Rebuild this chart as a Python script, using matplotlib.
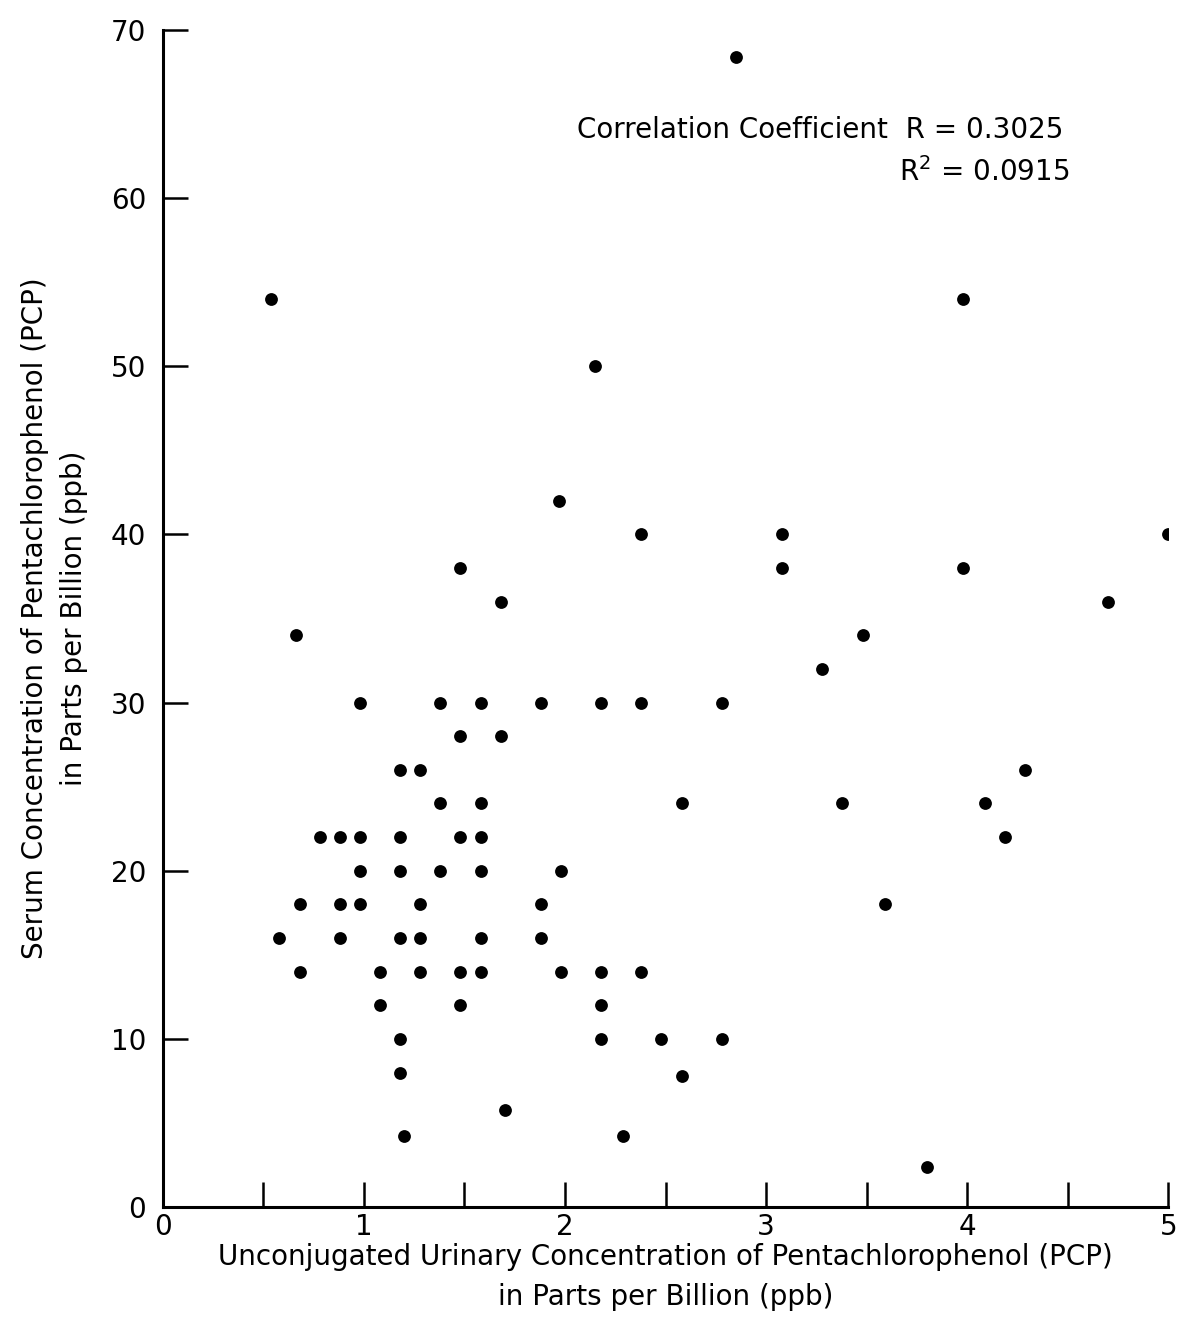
import matplotlib
matplotlib.use("Agg")
import matplotlib.pyplot as plt
import numpy as np

# urinary PCP (ppb)
urine = [2.85,
         0.54, 3.98,
         2.15,
         1.97,
         2.38, 3.08, 5.0,
         1.48, 3.08, 3.98,
         1.68, 4.70,
         0.66, 3.48,
         3.28,
         0.98, 1.38, 1.58, 1.88, 2.18, 2.38, 2.78,
         1.48, 1.68,
         1.18, 1.28, 4.29,
         1.38, 1.58, 2.58, 3.38, 4.09,
         0.78, 0.88, 0.98, 1.18, 1.48, 1.58, 4.19,
         0.98, 1.18, 1.38, 1.58, 1.98,
         0.68, 0.88, 0.98, 1.28, 1.88, 3.59,
         0.58, 0.88, 1.18, 1.28, 1.58, 1.88,
         0.68, 1.08, 1.28, 1.48, 1.58, 1.98, 2.18, 2.38,
         1.08, 1.48, 2.18,
         1.18, 2.18, 2.48, 2.78,
         1.18, 2.58,
         1.70,
         1.20, 2.29,
         3.80]

# serum PCP (ppb)
serum = [68.4,
         54, 54,
         50,
         42,
         40, 40, 40,
         38, 38, 38,
         36, 36,
         34, 34,
         32,
         30, 30, 30, 30, 30, 30, 30,
         28, 28,
         26, 26, 26,
         24, 24, 24, 24, 24,
         22, 22, 22, 22, 22, 22, 22,
         20, 20, 20, 20, 20,
         18, 18, 18, 18, 18, 18,
         16, 16, 16, 16, 16, 16,
         14, 14, 14, 14, 14, 14, 14, 14,
         12, 12, 12,
         10, 10, 10, 10,
         8, 7.8,
         5.8,
         4.2, 4.2,
         2.4]

xticks_major = [0, 1, 2, 3, 4, 5]
xticks_minor = [0.5, 1.5, 2.5, 3.5, 4.5]
yticks = [0, 10, 20, 30, 40, 50, 60, 70]

plt.rcParams['font.family'] = ['DejaVu Sans']

fig = plt.figure(figsize=(11.8, 13.27), dpi=100)
ax = fig.add_axes([0.138, 0.0904, 0.852, 0.887])

ax.scatter(urine, serum, s=85, color='black', zorder=3, linewidths=0)

ax.set_xlim(0, 5)
ax.set_ylim(0, 70)

for s in ['top', 'right']:
    ax.spines[s].set_visible(False)
for s in ['left', 'bottom']:
    ax.spines[s].set_linewidth(2.2)

ax.set_xticks(xticks_major)
ax.set_xticks(xticks_minor, minor=True)
ax.set_yticks(yticks)
ax.tick_params(axis='both', which='both', direction='in', length=18, width=1.8,
               labelsize=20)
ax.tick_params(axis='x', which='major', pad=4)
ax.tick_params(axis='y', pad=12)
for t in ax.get_xticklabels():
    t.set_clip_on(False)

ax.set_xlabel("Unconjugated Urinary Concentration of Pentachlorophenol (PCP)\nin Parts per Billion (ppb)",
              fontsize=20, labelpad=2, linespacing=1.55)
ax.set_ylabel("Serum Concentration of Pentachlorophenol (PCP)\nin Parts per Billion (ppb)",
              fontsize=20, labelpad=16, linespacing=1.5)

ax.text(0.896, 0.915, "Correlation Coefficient  R = 0.3025", transform=ax.transAxes,
        ha='right', va='center', fontsize=20)
ax.text(0.902, 0.879, "R$^2$ = 0.0915", transform=ax.transAxes,
        ha='right', va='center', fontsize=20)

fig.savefig("out.png", dpi=100)
